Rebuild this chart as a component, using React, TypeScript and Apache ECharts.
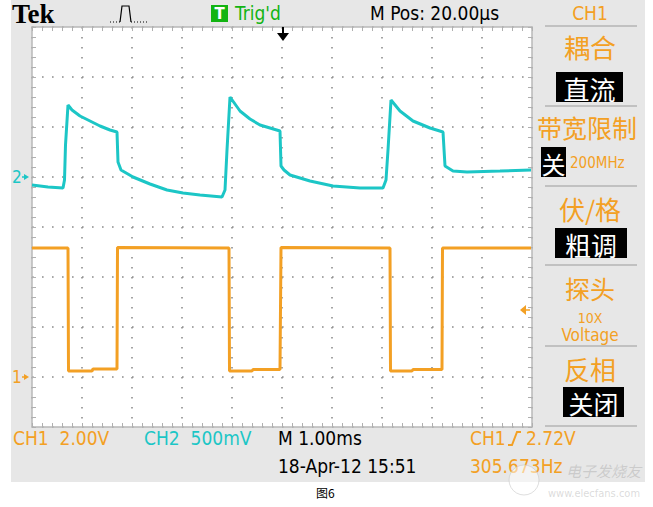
import React, { useEffect, useRef } from "react";
import * as echarts from "echarts";

// Time axis in ms relative to trigger (M 1.00ms/div, 10 divisions)
const timeTicks = [-5, -4, -3, -2, -1, 0, 1, 2, 3, 4, 5];

// CH1 (orange), volts, 2.00 V/div, ground at -3 div
const ch1Time = [-5.0, -4.28, -4.27, -3.8, -3.78, -3.3, -3.29, -1.06, -1.05, -0.6, -0.58, -0.04, -0.02, 2.16, 2.17, 2.6, 2.62, 3.2, 3.21, 4.98];
const ch1Volts = [5.16, 5.16, 0.24, 0.24, 0.32, 0.32, 5.18, 5.16, 0.24, 0.24, 0.3, 0.3, 5.18, 5.16, 0.24, 0.24, 0.3, 0.3, 5.16, 5.16];

// CH2 (cyan), volts, 500 mV/div, ground at +1 div
const ch2Time = [-5.0, -4.68, -4.38, -4.35, -4.33, -4.28, -4.2, -4.04, -3.84, -3.64, -3.44, -3.3, -3.28, -3.22, -2.98, -2.64, -2.3, -1.98, -1.64, -1.2, -1.14, -1.1, -1.04, -0.84, -0.64, -0.44, -0.24, -0.04, -0.02, 0.04, 0.16, 0.56, 1.02, 1.56, 2.02, 2.08, 2.12, 2.18, 2.36, 2.62, 2.96, 3.22, 3.26, 3.42, 3.7, 4.36, 4.98];
const ch2Volts = [-0.08, -0.1, -0.11, -0.03, 0.32, 0.72, 0.67, 0.61, 0.56, 0.51, 0.47, 0.45, 0.15, 0.07, 0.0, -0.07, -0.13, -0.16, -0.18, -0.2, -0.13, 0.27, 0.8, 0.66, 0.58, 0.52, 0.49, 0.46, 0.11, 0.07, 0.02, -0.04, -0.09, -0.11, -0.11, -0.03, 0.27, 0.77, 0.66, 0.56, 0.49, 0.45, 0.11, 0.06, 0.05, 0.06, 0.07];

const CH1_SCALE = 2.0;
const CH1_OFFSET = -3;
const CH2_SCALE = 0.5;
const CH2_OFFSET = 1;

const ORANGE = "#f3a024";
const CYAN = "#1cc6c6";
const NARROW = '"Liberation Sans Narrow", "DejaVu Sans Condensed", "Noto Sans", sans-serif';
const CJK = '"Noto Sans CJK SC", sans-serif';

function txt(text: string, x: number, y: number, fill: string, fontSize: number, opts: any = {}) {
  return {
    type: "text",
    x,
    y,
    silent: true,
    style: {
      text,
      fill,
      fontSize,
      fontFamily: opts.fontFamily || NARROW,
      fontWeight: opts.fontWeight || "normal",
      fontStyle: opts.fontStyle || "normal",
      align: opts.align || "left",
      verticalAlign: "middle",
    },
    z: 10,
  };
}

function box(x: number, y: number, w: number, h: number, text: string, fontSize = 26) {
  return [
    { type: "rect", shape: { x, y, width: w, height: h }, style: { fill: "#000" }, z: 9 },
    txt(text, x + w / 2, y + h / 2 + 1, "#ffffff", fontSize, { fontFamily: CJK, align: "center" }),
  ];
}

function sep(y: number) {
  return { type: "line", shape: { x1: 545, y1: y, x2: 637, y2: y }, style: { stroke: "#b4b4b4", lineWidth: 1.5 }, z: 9 };
}

export default function App() {
  const ref = useRef<HTMLDivElement>(null);

  useEffect(() => {
    if (!ref.current) return;
    const chart = echarts.init(ref.current, undefined, { renderer: "svg" });

    const ch1Data = ch1Time.map((t, i) => [t, ch1Volts[i] / CH1_SCALE + CH1_OFFSET]);
    const ch2Data = ch2Time.map((t, i) => [t, ch2Volts[i] / CH2_SCALE + CH2_OFFSET]);

    const frameAxisCommon = {
      axisLine: { show: true, onZero: false, lineStyle: { color: "#b8b8b8", width: 1.5 } },
      axisTick: { show: true, inside: true, length: 4, lineStyle: { color: "#b0b0b0" } },
      minorTick: { show: true, splitNumber: 5, length: 4, lineStyle: { color: "#b0b0b0" } },
      axisLabel: { show: false },
    };
    const dotted = { show: true, lineStyle: { color: "#8c8c8c", width: 1.6, type: [1.6, 8.4] } };

    const graphic: any[] = [
      // instrument panel background
      { type: "rect", shape: { x: 11, y: 0, width: 634, height: 482 }, style: { fill: "#e7e7e7" }, z: -10 },
      { type: "rect", shape: { x: 32, y: 27, width: 500, height: 400 }, style: { fill: "#ffffff" }, z: -9 },
      // top bar
      txt("Tek", 12, 14, "#000", 27, { fontFamily: '"Liberation Serif", serif', fontWeight: "bold" }),
      { type: "polyline", shape: { points: [[110, 22], [120, 22]] }, style: { stroke: "#000", lineWidth: 1.2, lineDash: [1, 2] }, z: 10 },
      { type: "polyline", shape: { points: [[120, 22], [122, 6], [129, 6], [131, 22]] }, style: { stroke: "#000", lineWidth: 1.2, fill: "none" }, z: 10 },
      { type: "polyline", shape: { points: [[131, 22], [148, 22]] }, style: { stroke: "#000", lineWidth: 1.2, lineDash: [1, 2] }, z: 10 },
      { type: "rect", shape: { x: 211, y: 5, width: 17, height: 17 }, style: { fill: "#12b412" }, z: 10 },
      txt("T", 219.5, 14, "#ffffff", 15, { fontFamily: '"DejaVu Sans", sans-serif', fontWeight: "bold", align: "center" }),
      txt("Trig'd", 235, 13, "#12b412", 19),
      txt("M Pos: 20.00\u00b5s", 370, 13, "#000", 19),
      txt("CH1", 590, 13, ORANGE, 19, { align: "center" }),
      // trigger position arrow
      { type: "line", shape: { x1: 283, y1: 27, x2: 283, y2: 36 }, style: { stroke: "#000", lineWidth: 2 }, z: 10 },
      { type: "polygon", shape: { points: [[277, 33], [289, 33], [283, 41]] }, style: { fill: "#000" }, z: 10 },
      // ground markers
      txt("2", 12, 177, CYAN, 17),
      { type: "polygon", shape: { points: [[24, 174], [29, 177], [24, 180]] }, style: { fill: CYAN }, z: 10 },
      { type: "line", shape: { x1: 22, y1: 177, x2: 26, y2: 177 }, style: { stroke: CYAN, lineWidth: 1.5 }, z: 10 },
      txt("1", 12, 377, ORANGE, 17),
      { type: "polygon", shape: { points: [[24, 374], [29, 377], [24, 380]] }, style: { fill: ORANGE }, z: 10 },
      { type: "line", shape: { x1: 22, y1: 377, x2: 26, y2: 377 }, style: { stroke: ORANGE, lineWidth: 1.5 }, z: 10 },
      // trigger level marker
      { type: "polygon", shape: { points: [[520, 310], [526, 305], [526, 315]] }, style: { fill: ORANGE }, z: 10 },
      { type: "line", shape: { x1: 524, y1: 310, x2: 530, y2: 310 }, style: { stroke: ORANGE, lineWidth: 1.5 }, z: 10 },
      // right menu
      sep(26),
      txt("耦合", 590, 46, ORANGE, 26, { fontFamily: CJK, align: "center" }),
      ...box(556, 72, 67, 30, "直流", 26),
      sep(106),
      txt("带宽限制", 587, 127, ORANGE, 25, { fontFamily: CJK, align: "center" }),
      ...box(541, 147, 25, 30, "关", 24),
      txt("200MHz", 570, 163, ORANGE, 15),
      sep(186),
      txt("伏/格", 590, 208, ORANGE, 26, { fontFamily: CJK, align: "center" }),
      ...box(555, 228, 72, 30, "粗调", 26),
      sep(265),
      txt("探头", 590, 288, ORANGE, 25, { fontFamily: CJK, align: "center" }),
      txt("10X", 590, 318, ORANGE, 14, { align: "center" }),
      txt("Voltage", 590, 335, ORANGE, 17, { align: "center" }),
      sep(346),
      txt("反相", 590, 368, ORANGE, 26, { fontFamily: CJK, align: "center" }),
      ...box(563, 387, 61, 30, "关闭", 25),
      sep(426),
      // bottom readouts
      txt("CH1  2.00V", 13, 438, ORANGE, 19),
      txt("CH2  500mV", 144, 438, CYAN, 19),
      txt("M 1.00ms", 278, 438, "#000", 19),
      txt("CH1", 470, 438, ORANGE, 19),
      { type: "polyline", shape: { points: [[508, 445], [512, 445], [517, 432], [521, 432]] }, style: { stroke: ORANGE, lineWidth: 2, fill: "none" }, z: 10 },
      txt("2.72V", 526, 438, ORANGE, 19),
      txt("18-Apr-12 15:51", 278, 466, "#000", 19),
      txt("305.673Hz", 470, 466, ORANGE, 19),
      // caption
      txt("图6", 316, 492, "#000", 12, { fontFamily: CJK }),
      // watermark
      { type: "circle", shape: { cx: 524, cy: 480, r: 15 }, style: { fill: "rgba(255,255,255,0.5)", stroke: "rgba(200,200,200,0.6)", lineWidth: 1 }, z: 11 },
      txt("电子发烧友", 566, 470, "rgba(150,150,150,0.35)", 15, { fontFamily: CJK, fontStyle: "italic" }),
      txt("www.elecfans.com", 548, 493, "rgba(150,150,150,0.35)", 11, { fontFamily: '"DejaVu Sans Condensed", sans-serif' }),
    ];

    chart.setOption({
      animation: false,
      backgroundColor: "#ffffff",
      grid: { left: 32, top: 27, width: 500, height: 400, containLabel: false },
      xAxis: [
        {
          type: "value", min: timeTicks[0], max: timeTicks[timeTicks.length - 1], interval: 1, position: "bottom",
          ...frameAxisCommon, splitLine: dotted,
        },
        {
          type: "value", min: timeTicks[0], max: timeTicks[timeTicks.length - 1], interval: 1, position: "top",
          ...frameAxisCommon, splitLine: { show: false },
        },
      ],
      yAxis: [
        { type: "value", min: -4, max: 4, interval: 1, position: "left", ...frameAxisCommon, splitLine: dotted },
        { type: "value", min: -4, max: 4, interval: 1, position: "right", ...frameAxisCommon, splitLine: { show: false } },
      ],
      series: [
        {
          name: "CH1", type: "line", data: ch1Data, showSymbol: false, symbol: "none",
          lineStyle: { color: ORANGE, width: 3 }, xAxisIndex: 0, yAxisIndex: 0, z: 5,
        },
        {
          name: "CH2", type: "line", data: ch2Data, showSymbol: false, symbol: "none",
          lineStyle: { color: CYAN, width: 3 }, xAxisIndex: 0, yAxisIndex: 0, z: 5,
        },
      ],
      graphic,
    });

    return () => chart.dispose();
  }, []);

  return <div ref={ref} style={{ position: "absolute", left: 0, top: 0, width: 653, height: 507 }} />;
}
